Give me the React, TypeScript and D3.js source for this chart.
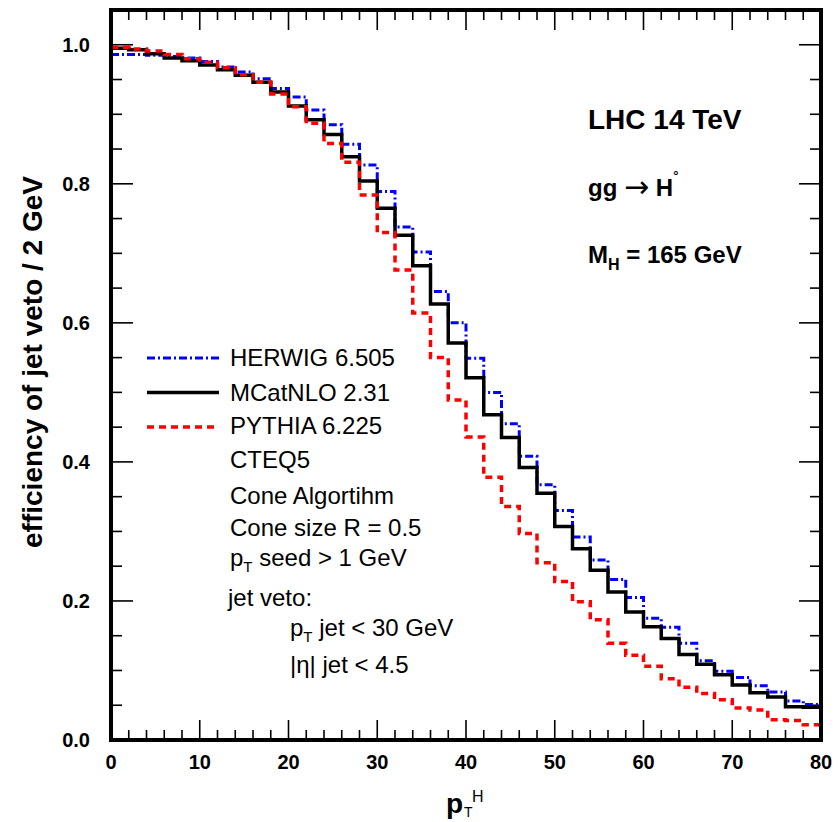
import React from 'react';
import * as d3 from 'd3';

// p_T^H bins of 2 GeV, from 0 to 80 GeV
const BIN_WIDTH = 2;
const X_DOMAIN: [number, number] = [0, 80];
const Y_DOMAIN: [number, number] = [0, 1.05];

const herwig = [
  0.986, 0.986, 0.985, 0.983, 0.981, 0.976, 0.968, 0.961, 0.951, 0.937,
  0.925, 0.906, 0.885, 0.857, 0.827, 0.789, 0.738, 0.702, 0.645, 0.600,
  0.549, 0.500, 0.455, 0.408, 0.367, 0.330, 0.292, 0.259, 0.231, 0.205,
  0.175, 0.162, 0.139, 0.114, 0.099, 0.090, 0.078, 0.069, 0.056, 0.051,
];

const mcatnlo = [
  0.995, 0.993, 0.987, 0.981, 0.977, 0.971, 0.964, 0.956, 0.946, 0.932,
  0.912, 0.892, 0.871, 0.839, 0.804, 0.765, 0.726, 0.682, 0.627, 0.571,
  0.521, 0.468, 0.435, 0.392, 0.355, 0.307, 0.275, 0.244, 0.213, 0.184,
  0.163, 0.146, 0.123, 0.109, 0.094, 0.079, 0.068, 0.062, 0.048, 0.047,
];

const pythia = [
  0.996, 0.994, 0.991, 0.986, 0.980, 0.975, 0.967, 0.957, 0.946, 0.929,
  0.911, 0.887, 0.858, 0.831, 0.784, 0.730, 0.676, 0.614, 0.550, 0.489,
  0.436, 0.378, 0.336, 0.297, 0.255, 0.228, 0.199, 0.173, 0.139, 0.122,
  0.106, 0.088, 0.076, 0.067, 0.058, 0.046, 0.043, 0.029, 0.028, 0.022,
];

const xTickLabels = [0, 10, 20, 30, 40, 50, 60, 70, 80];
const yTickLabels = [0, 0.2, 0.4, 0.6, 0.8, 1.0];
const xMinorStep = 2;
const yMinorStep = 0.05;

const legendNames = ['HERWIG 6.505', 'MCatNLO 2.31', 'PYTHIA 6.225'];

const FONT = "'Liberation Sans', Arial, Helvetica, sans-serif";

export default function App() {
  const W = 838;
  const H = 822;
  const L = 111, R = 821, T = 10, B = 740;

  const x = d3.scaleLinear().domain(X_DOMAIN).range([L, R]);
  const y = d3.scaleLinear().domain(Y_DOMAIN).range([B, T]);

  const step = (vals: number[]) => {
    const pts: [number, number][] = vals.map((v, i) => [i * BIN_WIDTH, v]);
    pts.push([vals.length * BIN_WIDTH, vals[vals.length - 1]]);
    return d3
      .line<[number, number]>()
      .x((d) => x(d[0]))
      .y((d) => y(d[1]))
      .curve(d3.curveStepAfter)(pts) as string;
  };

  const xTicks = d3.range(X_DOMAIN[0] + xMinorStep, X_DOMAIN[1], xMinorStep);
  const yTicks = d3.range(1, Math.round(1.0 / yMinorStep) + 1).map((k) => +(k * yMinorStep).toFixed(2));
  const isXMajor = (v: number) => Math.abs(v % 10) < 1e-6;
  const isYMajor = (v: number) => Math.abs(Math.round(v * 10) % 2) === 0 && Math.abs(v * 10 - Math.round(v * 10)) < 1e-6;

  const styles = [
    { name: legendNames[0], vals: herwig, color: '#0000ff', width: 3, dash: '8,3,2,3' },
    { name: legendNames[1], vals: mcatnlo, color: '#000000', width: 3.5, dash: '' },
    { name: legendNames[2], vals: pythia, color: '#ff0000', width: 3.5, dash: '7,5' },
  ];
  const legendY = [358, 392.5, 427];
  const legendBase = [366, 401, 434];

  return (
    <svg
      width={W}
      height={H}
      viewBox={`0 0 ${W} ${H}`}
      style={{ position: 'absolute', left: 0, top: 0, display: 'block', background: '#fff' }}
      fontFamily={FONT}
    >
      <rect x={0} y={0} width={W} height={H} fill="#fff" />

      {/* ticks */}
      <g stroke="#000" strokeWidth={1.6}>
        {xTicks.map((v) => {
          const len = isXMajor(v) ? 20 : 10;
          return (
            <g key={'xt' + v}>
              <line x1={x(v)} x2={x(v)} y1={B} y2={B - len} />
              <line x1={x(v)} x2={x(v)} y1={T} y2={T + len} />
            </g>
          );
        })}
        {yTicks.map((v) => {
          const len = isYMajor(v) ? 22 : 11;
          return (
            <g key={'yt' + v}>
              <line x1={L} x2={L + len} y1={y(v)} y2={y(v)} />
              <line x1={R} x2={R - len} y1={y(v)} y2={y(v)} />
            </g>
          );
        })}
      </g>

      {/* histograms */}
      {styles.map((s) => (
        <path
          key={s.name}
          d={step(s.vals)}
          fill="none"
          stroke={s.color}
          strokeWidth={s.width}
          strokeDasharray={s.dash || undefined}
          strokeLinejoin="miter"
        />
      ))}

      {/* frame */}
      <rect x={L} y={T} width={R - L} height={B - T} fill="none" stroke="#000" strokeWidth={4} />

      {/* tick labels */}
      <g fontSize={20} fontWeight="bold" fill="#000">
        {xTickLabels.map((v) => (
          <text key={'xl' + v} x={x(v)} y={769} textAnchor="middle">
            {v}
          </text>
        ))}
        {yTickLabels.map((v) => (
          <text key={'yl' + v} x={90} y={y(v) + 7} textAnchor="end">
            {v.toFixed(1)}
          </text>
        ))}
      </g>

      {/* axis titles */}
      <text
        transform={`translate(42, 362) rotate(-90)`}
        textAnchor="middle"
        fontSize={28}
        fontWeight="bold"
      >
        efficiency of jet veto / 2 GeV
      </text>
      <text x={446} y={813} fontSize={28} fontWeight="bold">
        p
      </text>
      <text x={464} y={817} fontSize={14}>
        T
      </text>
      <text x={472} y={802} fontSize={16}>
        H
      </text>

      {/* legend */}
      {styles.map((s, i) => (
        <g key={'lg' + i}>
          <line
            x1={147}
            x2={219}
            y1={legendY[i]}
            y2={legendY[i]}
            stroke={s.color}
            strokeWidth={s.width}
            strokeDasharray={s.dash || undefined}
          />
          <text x={230} y={legendBase[i]} fontSize={24}>
            {s.name}
          </text>
        </g>
      ))}
      <g fontSize={24}>
        <text x={230} y={468}>CTEQ5</text>
        <text x={230} y={504}>Cone Algortihm</text>
        <text x={230} y={536}>Cone size R = 0.5</text>
        <text x={230} y={566}>
          p<tspan fontSize={15} dy={6}>T</tspan>
          <tspan dy={-6}> seed &gt; 1 GeV</tspan>
        </text>
        <text x={228} y={606}>jet veto:</text>
        <text x={290} y={636}>
          p<tspan fontSize={15} dy={6}>T</tspan>
          <tspan dy={-6}> jet &lt; 30 GeV</tspan>
        </text>
        <text x={290} y={673}>|η| jet &lt; 4.5</text>
      </g>

      {/* annotation */}
      <text x={588} y={129} fontSize={28} fontWeight="bold">
        LHC 14 TeV
      </text>
      <text x={588} y={196} fontSize={24} fontWeight="bold">
        gg{' '}
        <tspan fontWeight="normal" fontFamily="'DejaVu Sans', sans-serif" fontSize={30} dy={1}>
          →
        </tspan>
        <tspan dy={-1}> H</tspan>
        <tspan fontSize={13} dy={-16}>°</tspan>
      </text>
      <text x={588} y={263} fontSize={24} fontWeight="bold">
        M<tspan fontSize={16} dy={7}>H</tspan>
        <tspan dy={-7}> = 165 GeV</tspan>
      </text>
    </svg>
  );
}
